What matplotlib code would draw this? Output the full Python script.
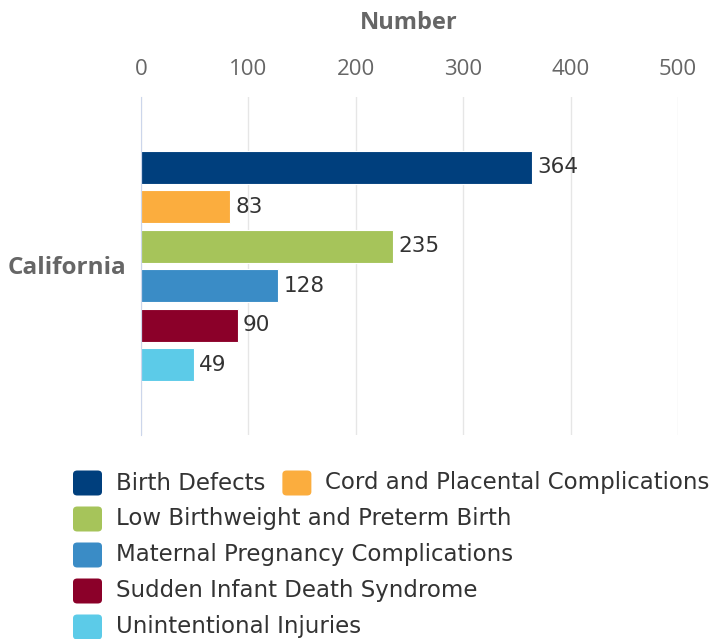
import matplotlib.pyplot as plt
from matplotlib.patches import FancyBboxPatch

# data
region = 'California'
causes = ['Birth Defects', 'Cord and Placental Complications',
          'Low Birthweight and Preterm Birth', 'Maternal Pregnancy Complications',
          'Sudden Infant Death Syndrome', 'Unintentional Injuries']
counts = [364, 83, 235, 128, 90, 49]
colors = ['#003f7d', '#fbad3e', '#a6c45a', '#3a8cc6', '#8b0029', '#5ccbe8']
xticks = [0, 100, 200, 300, 400, 500]

fig = plt.figure(figsize=(7.18, 6.39), dpi=100)
ax = fig.add_axes([141 / 718, 1 - 435 / 639, 537 / 718, 338 / 639])

pos = list(range(len(counts)))
ax.barh(pos, counts, height=0.84, color=colors, edgecolor='white', linewidth=0.8, zorder=3)
for p, v in zip(pos, counts):
    ax.text(v + 5, p, str(v), va='center', ha='left', fontsize=15.5, color='#333333',
            family='DejaVu Sans')

half = 338 / 39.5 / 2
ax.set_ylim(2.5 + half, 2.5 - half)
ax.set_xlim(0, 500)
ax.set_xticks(xticks)
ax.xaxis.tick_top()
ax.tick_params(axis='x', length=0, pad=12, labelsize=16, labelcolor='#666666')
for lab in ax.get_xticklabels():
    lab.set_family('Open Sans')
ax.set_yticks([])
ax.grid(axis='x', color='#e6e6e6', linewidth=1, zorder=0)
for s in ['top', 'right', 'bottom']:
    ax.spines[s].set_visible(False)
ax.spines['left'].set_color('#ccd6eb')
ax.spines['left'].set_zorder(4)

fig.text(409 / 718, 1 - 23 / 639, 'Number', ha='center', va='center', fontsize=17,
         fontweight='bold', color='#666666', family='Open Sans')
fig.text(8 / 718, 1 - 268 / 639, region, ha='left', va='center', fontsize=17.5,
         fontweight='bold', color='#666666', family='Open Sans')

# legend, laid out like the wrapped html legend
rows = [[0, 1], [2], [3], [4], [5]]
fig.canvas.draw()
r = fig.canvas.get_renderer()
for ri, row in enumerate(rows):
    yc = 483 + 36 * ri
    x = 73
    for i in row:
        fig.patches.append(FancyBboxPatch((x / 718, 1 - (yc + 12.5) / 639), 29 / 718, 25 / 639,
                                          boxstyle='round,pad=0,rounding_size=0.006',
                                          transform=fig.transFigure, facecolor=colors[i],
                                          edgecolor='none'))
        t = fig.text((x + 43) / 718, 1 - yc / 639, causes[i], ha='left', va='center',
                     fontsize=16.5, color='#333333', family='DejaVu Sans')
        w = t.get_window_extent(renderer=r).width
        x = x + 43 + w + 17

fig.savefig('out.png', dpi=100)
